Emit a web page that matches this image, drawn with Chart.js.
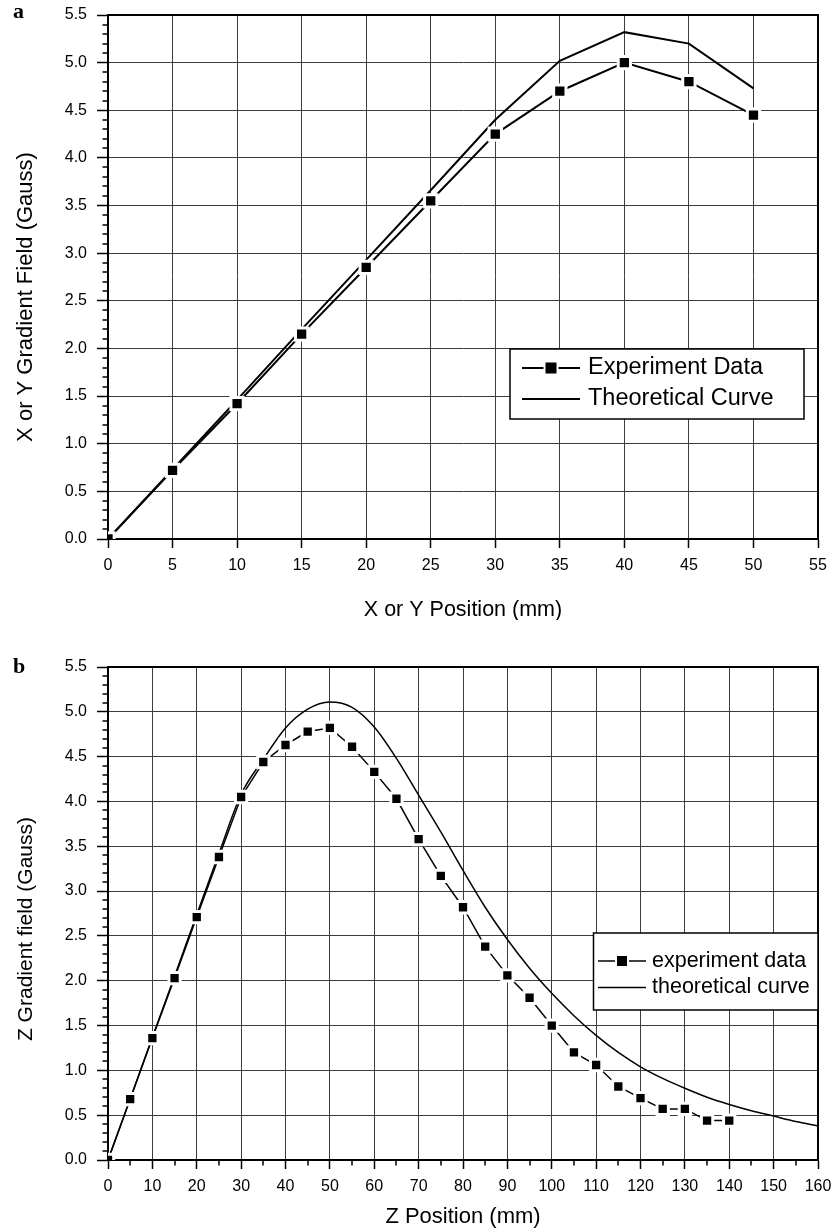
<!DOCTYPE html>
<html>
<head>
<meta charset="utf-8">
<script src="https://cdn.jsdelivr.net/npm/chart.js@4.4.1/dist/chart.umd.min.js"></script>
<style>
  body { margin: 0; background: #fff; }
  #wrap { position: relative; width: 831px; height: 1230px; }
  #chartA { position: absolute; left: 0; top: 0; }
  #chartB { position: absolute; left: 0; top: 640px; }
</style>
</head>
<body>
<div id="wrap">
  <canvas id="chartA" width="831" height="620"></canvas>
  <canvas id="chartB" width="831" height="590"></canvas>
</div>
<script>
// panel a : X or Y gradient field
const posA = [0, 5, 10, 15, 20, 25, 30, 35, 40, 45, 50];
const expA = [0, 0.72, 1.42, 2.15, 2.85, 3.55, 4.25, 4.70, 5.00, 4.80, 4.45];
const theoryA = [0, 0.73, 1.46, 2.20, 2.93, 3.66, 4.40, 5.02, 5.32, 5.20, 4.73];
const namesA = ['Experiment Data', 'Theoretical Curve'];
const xTicksA = [0, 5, 10, 15, 20, 25, 30, 35, 40, 45, 50, 55];

// panel b : Z gradient field
const posB = [0, 5, 10, 15, 20, 25, 30, 35, 40, 45, 50, 55, 60, 65, 70, 75, 80, 85, 90, 95, 100, 105, 110, 115, 120, 125, 130, 135, 140];
const expB = [0, 0.68, 1.36, 2.03, 2.71, 3.38, 4.05, 4.44, 4.63, 4.78, 4.82, 4.61, 4.33, 4.03, 3.58, 3.17, 2.82, 2.38, 2.06, 1.81, 1.50, 1.20, 1.06, 0.82, 0.69, 0.57, 0.57, 0.44, 0.44];
const theoryPosB = [0, 5, 10, 15, 20, 25, 30, 35, 40, 45, 50, 55, 60, 65, 70, 75, 80, 85, 90, 95, 100, 105, 110, 115, 120, 125, 130, 135, 140, 145, 150, 155, 160];
const theoryB = [0, 0.68, 1.37, 2.05, 2.74, 3.42, 4.08, 4.47, 4.82, 5.03, 5.11, 5.05, 4.83, 4.48, 4.07, 3.66, 3.23, 2.82, 2.46, 2.14, 1.86, 1.61, 1.39, 1.20, 1.04, 0.91, 0.80, 0.70, 0.62, 0.55, 0.49, 0.43, 0.38];
const namesB = ['experiment data', 'theoretical curve'];
const xTicksB = [0, 10, 20, 30, 40, 50, 60, 70, 80, 90, 100, 110, 120, 130, 140, 150, 160];

const yTicks = [0, 0.5, 1.0, 1.5, 2.0, 2.5, 3.0, 3.5, 4.0, 4.5, 5.0, 5.5];

const sans = '"Liberation Sans", Arial, sans-serif';

function pairs(xs, ys) {
  return xs.map((x, i) => ({ x: x, y: ys[i] }));
}

// small ticks between the labelled ones
function minorValues(ticks, parts) {
  const out = [];
  for (let i = 0; i < ticks.length - 1; i++) {
    const d = (ticks[i + 1] - ticks[i]) / parts;
    for (let k = 1; k < parts; k++) out.push(ticks[i] + k * d);
  }
  return out;
}

// top/right frame, minor ticks, titles and panel letter
const frame = {
  id: 'frame',
  afterDraw(chart, args, o) {
    const ctx = chart.ctx, a = chart.chartArea;
    const sx = chart.scales.x, sy = chart.scales.y;
    ctx.save();
    ctx.strokeStyle = '#000';
    ctx.lineWidth = 2;
    ctx.beginPath();
    ctx.moveTo(a.left, a.top);
    ctx.lineTo(a.right, a.top);
    ctx.lineTo(a.right, a.bottom);
    ctx.stroke();

    ctx.lineWidth = 1.5;
    ctx.beginPath();
    o.minorY.forEach(v => {
      const p = Math.round(sy.getPixelForValue(v));
      ctx.moveTo(a.left - o.len, p);
      ctx.lineTo(a.left, p);
    });
    o.minorX.forEach(v => {
      const p = Math.round(sx.getPixelForValue(v));
      ctx.moveTo(p, a.bottom);
      ctx.lineTo(p, a.bottom + o.len);
    });
    ctx.stroke();

    ctx.fillStyle = '#000';
    ctx.textBaseline = 'alphabetic';
    ctx.textAlign = 'left';
    ctx.font = 'bold 22px "Liberation Serif", "Times New Roman", serif';
    ctx.fillText(o.panel, 13, o.panelY);

    ctx.textAlign = 'center';
    ctx.font = o.xTitleSize + 'px ' + sans;
    ctx.fillText(o.xTitle, (a.left + a.right) / 2, o.xTitleY);

    ctx.translate(31.5, o.yTitleY);
    ctx.rotate(-Math.PI / 2);
    ctx.font = o.yTitleSize + 'px ' + sans;
    ctx.fillText(o.yTitle, 0, 0);
    ctx.restore();
  }
};

// boxed legend inside the plot
const boxLegend = {
  id: 'boxLegend',
  afterDraw(chart, args, o) {
    const ctx = chart.ctx;
    ctx.save();
    ctx.fillStyle = '#fff';
    ctx.fillRect(o.x0, o.y0, o.x1 - o.x0, o.y1 - o.y0);
    ctx.strokeStyle = '#000';
    ctx.lineWidth = 1.5;
    ctx.strokeRect(o.x0, o.y0, o.x1 - o.x0, o.y1 - o.y0);
    chart.data.datasets.forEach((ds, i) => {
      const y = o.rows[i];
      ctx.strokeStyle = '#000';
      ctx.lineWidth = ds.borderWidth;
      ctx.beginPath();
      ctx.moveTo(o.lineX0, y);
      ctx.lineTo(o.lineX1, y);
      ctx.stroke();
      if (ds.pointRadius > 0) {
        const m = (o.lineX0 + o.lineX1) / 2, s = o.marker;
        ctx.fillStyle = '#fff';
        ctx.fillRect(m - s / 2 - 2, y - s / 2 - 2, s + 4, s + 4);
        ctx.fillStyle = '#000';
        ctx.fillRect(m - s / 2, y - s / 2, s, s);
      }
      ctx.fillStyle = '#000';
      ctx.font = o.font + 'px ' + sans;
      ctx.textAlign = 'left';
      ctx.textBaseline = 'middle';
      ctx.fillText(ds.label, o.textX, y);
    });
    ctx.restore();
  }
};

function makeOptions(cfg) {
  return {
    responsive: false,
    animation: false,
    layout: { padding: { left: 0, top: cfg.top, right: 13, bottom: 0 } },
    plugins: {
      legend: { display: false },
      tooltip: { enabled: false },
      frame: cfg.frame,
      boxLegend: cfg.legend
    },
    scales: {
      x: {
        type: 'linear',
        min: cfg.xTicks[0],
        max: cfg.xTicks[cfg.xTicks.length - 1],
        afterBuildTicks: s => { s.ticks = cfg.xTicks.map(v => ({ value: v })); },
        afterFit: s => { s.height = cfg.xHeight; s.paddingLeft = 0; s.paddingRight = 0; },
        grid: { color: '#3c3c3c', lineWidth: 1, tickLength: 9, tickColor: '#000', tickWidth: 1.5 },
        border: { color: '#000', width: 2 },
        ticks: {
          color: '#000', font: { family: sans, size: 16 }, padding: 8,
          maxRotation: 0, autoSkip: false, callback: v => String(v)
        }
      },
      y: {
        type: 'linear',
        min: yTicks[0],
        max: yTicks[yTicks.length - 1],
        afterBuildTicks: s => { s.ticks = yTicks.map(v => ({ value: v })); },
        afterFit: s => { s.width = 108; s.paddingTop = 0; s.paddingBottom = 0; },
        grid: { color: '#3c3c3c', lineWidth: 1, tickLength: 11, tickColor: '#000', tickWidth: 1.5 },
        border: { color: '#000', width: 2 },
        ticks: {
          color: '#000', font: { family: sans, size: 16 }, padding: 10,
          autoSkip: false, callback: v => v.toFixed(1)
        }
      }
    }
  };
}

function expSet(label, data, width, radius) {
  return {
    label: label, data: data, borderColor: '#000', borderWidth: width,
    pointStyle: 'rect', pointRadius: radius, pointBackgroundColor: '#000',
    pointBorderColor: '#fff', pointBorderWidth: 3, tension: 0
  };
}

function theorySet(label, data, width, smooth) {
  return {
    label: label, data: data, borderColor: '#000', borderWidth: width,
    pointRadius: 0, tension: 0, cubicInterpolationMode: smooth ? 'monotone' : 'default'
  };
}

new Chart(document.getElementById('chartA'), {
  type: 'line',
  data: {
    datasets: [
      expSet(namesA[0], pairs(posA, expA), 2, 8.7),
      theorySet(namesA[1], pairs(posA, theoryA), 2, false)
    ]
  },
  options: makeOptions({
    top: 15, xHeight: 81, xTicks: xTicksA,
    frame: {
      minorY: minorValues(yTicks, 5), minorX: [], len: 5.5,
      panel: 'a', panelY: 18,
      xTitle: 'X or Y Position (mm)', xTitleSize: 21.5, xTitleY: 616,
      yTitle: 'X or Y Gradient Field (Gauss)', yTitleSize: 22, yTitleY: 297
    },
    legend: {
      x0: 510, y0: 349, x1: 804, y1: 419,
      rows: [368, 399], lineX0: 522, lineX1: 580, textX: 588, font: 23.5, marker: 11
    }
  }),
  plugins: [frame, boxLegend]
});

new Chart(document.getElementById('chartB'), {
  type: 'line',
  data: {
    datasets: [
      expSet(namesB[0], pairs(posB, expB), 1.5, 8),
      theorySet(namesB[1], pairs(theoryPosB, theoryB), 1.5, true)
    ]
  },
  options: makeOptions({
    top: 27, xHeight: 70, xTicks: xTicksB,
    frame: {
      minorY: minorValues(yTicks, 5), minorX: minorValues(xTicksB, 2), len: 5.5,
      panel: 'b', panelY: 33,
      xTitle: 'Z Position (mm)', xTitleSize: 22, xTitleY: 583,
      yTitle: 'Z Gradient field (Gauss)', yTitleSize: 21, yTitleY: 289
    },
    legend: {
      x0: 593.5, y0: 293, x1: 818, y1: 370,
      rows: [321, 347.5], lineX0: 598, lineX1: 646, textX: 652, font: 21.5, marker: 10
    }
  }),
  plugins: [frame, boxLegend]
});
</script>
</body>
</html>
